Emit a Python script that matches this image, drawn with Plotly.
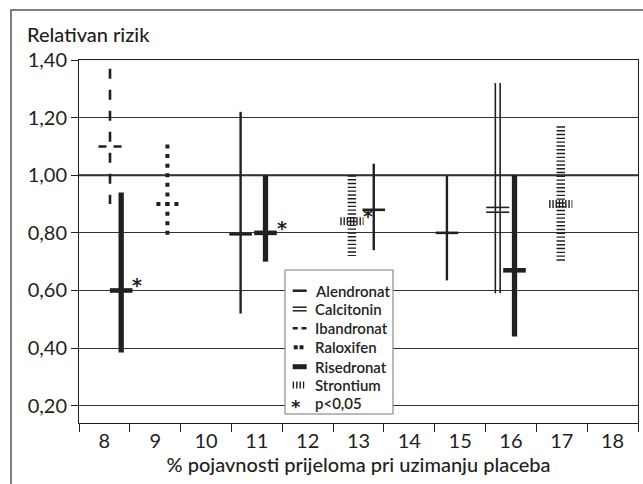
import plotly.graph_objects as go

# ---------------- data ----------------
categories = [8, 9, 10, 11, 12, 13, 14, 15, 16, 17, 18]
y_ticks = [0.20, 0.40, 0.60, 0.80, 1.00, 1.20, 1.40]

study_drug = ["Ibandronat", "Risedronat", "Raloxifen", "Alendronat", "Risedronat",
              "Strontium", "Alendronat", "Alendronat", "Calcitonin", "Risedronat", "Strontium"]
study_x = [8.11, 8.33, 9.24, 10.68, 11.17, 12.87, 13.30, 14.74, 15.74, 16.07, 16.98]
rr = [1.10, 0.60, 0.90, 0.795, 0.80, 0.84, 0.88, 0.80, 0.88, 0.67, 0.90]
ci_low = [0.90, 0.385, 0.80, 0.52, 0.70, 0.72, 0.74, 0.635, 0.59, 0.44, 0.70]
ci_high = [1.37, 0.94, 1.10, 1.22, 1.00, 1.00, 1.04, 1.00, 1.32, 1.00, 1.17]
significant = [False, True, False, False, True, True, False, False, False, False, False]

legend_labels = ["Alendronat", "Calcitonin", "Ibandronat", "Raloxifen", "Risedronat", "Strontium", "p<0,05"]

# ---------------- layout geometry ----------------
W, H = 643, 484
L, R, T, B = 79, 638, 60, 423
X_RANGE = [categories[0] - 0.5, categories[-1] + 0.5]
Y_RANGE = [0.14, 1.40]
PX_X = (R - L) / (X_RANGE[1] - X_RANGE[0])
PX_Y = (B - T) / (Y_RANGE[1] - Y_RANGE[0])
INK = "#231f20"
FONT = "Lato"
STAR_FONT = "DejaVu Sans"


def px(p):
    return (p - L) / (R - L)


def py(p):
    return (B - p) / (B - T)


# styles per drug: vertical width/dash, horizontal width/dash, half length px,
# double-line offset px, end padding px (for dotted lines)
styles = {
    "Alendronat": dict(vw=2.4, vd="solid", hw=2.6, hd="solid", half=11.3, dbl=0, pad=0),
    "Calcitonin": dict(vw=1.6, vd="solid", hw=1.6, hd="solid", half=11.5, dbl=2.4, pad=0),
    "Ibandronat": dict(vw=2.6, vd="10px,11px", hw=2.6, hd="8px,7px", half=11.5, dbl=0, pad=0),
    "Raloxifen": dict(vw=4.0, vd="4px,5.6px", hw=4.0, hd="4px,5px", half=11.0, dbl=0, pad=2),
    "Risedronat": dict(vw=5.3, vd="solid", hw=4.6, hd="solid", half=11.3, dbl=0, pad=0),
    "Strontium": dict(vw=8.5, vd="1.4px,2.4px", hw=8.0, hd="1.4px,1.8px", half=11.6, dbl=0, pad=0),
}

fig = go.Figure()

for drug, st in styles.items():
    idx = [i for i, d in enumerate(study_drug) if d == drug]
    offsets = [0] if st["dbl"] == 0 else [-st["dbl"], st["dbl"]]
    for off in offsets:
        vx, vy, hx, hy = [], [], [], []
        for i in idx:
            xo = off / PX_X
            yo = off / PX_Y
            pad = st["pad"] / PX_Y
            vx += [study_x[i] + xo, study_x[i] + xo, None]
            vy += [ci_high[i] + pad, ci_low[i] - pad, None]
            h = st["half"] / PX_X
            hx += [study_x[i] - h, study_x[i] + h, None]
            hy += [rr[i] + yo, rr[i] + yo, None]
        fig.add_trace(go.Scatter(x=vx, y=vy, mode="lines", showlegend=False, hoverinfo="skip",
                                 line=dict(color=INK, width=st["vw"], dash=st["vd"])))
        fig.add_trace(go.Scatter(x=hx, y=hy, mode="lines", showlegend=False, hoverinfo="skip",
                                 line=dict(color=INK, width=st["hw"], dash=st["hd"])))

annotations = []
for i, sig in enumerate(significant):
    if sig:
        annotations.append(dict(x=study_x[i], y=rr[i], xref="x", yref="y", text="*", showarrow=False,
                                xshift=16, yshift=5,
                                font=dict(family=STAR_FONT, size=19, color=INK, weight="bold")))

# title
annotations.append(dict(x=px(25), y=py(34), xref="paper", yref="paper", xanchor="left", yanchor="middle",
                        text="Relativan rizik", showarrow=False,
                        font=dict(family=FONT, size=20, color=INK, weight=500)))

shapes = []
# reference line at 1.00
shapes.append(dict(type="line", xref="paper", yref="y", x0=0, x1=1, y0=1.0, y1=1.0,
                   line=dict(color=INK, width=2), layer="below"))
# outer border
shapes.append(dict(type="rect", xref="paper", yref="paper", x0=px(11), x1=px(700), y0=py(540), y1=py(10),
                   line=dict(color="#555", width=1.5), fillcolor="rgba(0,0,0,0)", layer="below"))

# legend box
shapes.append(dict(type="rect", xref="paper", yref="paper", x0=px(285), x1=px(393), y0=py(414), y1=py(270),
                   line=dict(color="#777", width=1), fillcolor="white", layer="above"))
rows = [290.7, 309.0, 328.3, 347.3, 366.7, 385.0, 403.3]
sx0, sx1 = 292.7, 306.7


def leg_line(y, x0, x1, w, dash="solid"):
    shapes.append(dict(type="line", xref="paper", yref="paper", x0=px(x0), x1=px(x1), y0=py(y), y1=py(y),
                       line=dict(color=INK, width=w, dash=dash), layer="above"))


leg_line(rows[0], sx0, sx1, 2.5)
leg_line(rows[1] - 1.8, sx0, sx1, 1.5)
leg_line(rows[1] + 1.8, sx0, sx1, 1.5)
leg_line(rows[2], sx0, sx1, 2.5, "5px,3.8px")
leg_line(rows[3], sx0 + 1, sx1, 4, "4px,1.8px,4px,20px")
leg_line(rows[4], sx0, sx1, 5)
leg_line(rows[5], sx0, sx0 + 11.5, 7, "1.4px,2px")

for k, lab in enumerate(legend_labels):
    annotations.append(dict(x=px(313), y=py(rows[k]), xref="paper", yref="paper", xanchor="left",
                            yanchor="middle", text=lab, showarrow=False,
                            font=dict(family=FONT, size=15, color=INK, weight=600)))
annotations.append(dict(x=px(296), y=py(rows[6] + 3), xref="paper", yref="paper", xanchor="center",
                        yanchor="middle", text="*", showarrow=False,
                        font=dict(family=STAR_FONT, size=18, color=INK, weight="bold")))

fig.update_layout(
    width=W, height=H,
    margin=dict(l=L, r=W - R, t=T, b=H - B),
    paper_bgcolor="white", plot_bgcolor="white",
    separators=", ",
    font=dict(family=FONT, size=20, color=INK),
    showlegend=False,
    shapes=shapes,
    annotations=annotations,
    xaxis=dict(
        range=X_RANGE, tickmode="array", tickvals=categories, ticktext=[str(c) for c in categories],
        ticks="", showgrid=False, zeroline=False,
        showline=True, linecolor=INK, linewidth=1, mirror=True,
        tickfont=dict(family=FONT, size=20, color=INK),
        minor=dict(tickmode="array", tickvals=[c - 0.5 for c in categories] + [categories[-1] + 0.5],
                   ticks="outside", ticklen=8, tickcolor=INK, showgrid=False),
        title=dict(text="% pojavnosti prijeloma pri uzimanju placeba", standoff=4,
                   font=dict(family=FONT, size=20, color=INK, weight=500)),
    ),
    yaxis=dict(
        range=Y_RANGE, tickmode="array", tickvals=y_ticks, tickformat=".2f",
        ticks="outside", ticklen=7, tickcolor=INK, showgrid=True, gridcolor="#333", gridwidth=1,
        zeroline=False, showline=True, linecolor=INK, linewidth=1, mirror=True,
        tickfont=dict(family=FONT, size=20, color=INK),
    ),
)

fig.write_html("out.html", config={"displayModeBar": False},
               post_script="document.body.style.margin='0';document.body.style.overflow='hidden';")
